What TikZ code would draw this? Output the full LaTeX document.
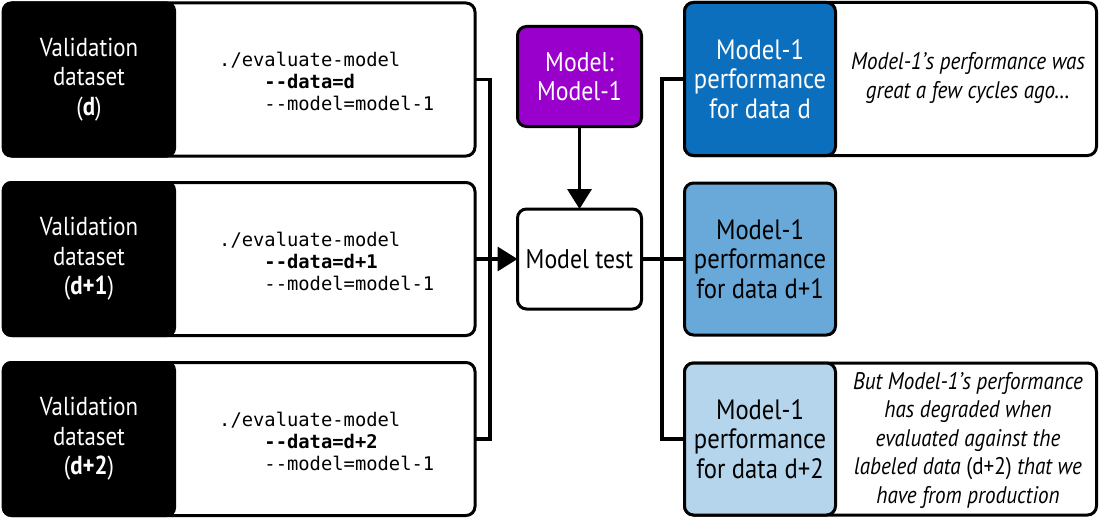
\documentclass[tikz,border=0pt]{standalone}
\usepackage{fontspec}
\setmainfont{PT Sans}[FakeStretch=0.88]
\newfontfamily\codefont{DejaVu Sans Mono}
\usetikzlibrary{arrows.meta}
\definecolor{dblue}{HTML}{0B6FBD}
\definecolor{mblue}{HTML}{68A9D9}
\definecolor{lblue}{HTML}{B4D5EC}
\definecolor{purp}{HTML}{9A00CC}
\begin{document}
\begin{tikzpicture}[x=1pt,y=-1pt,
  box/.style={draw=black, line width=3pt, rounded corners=9pt, inner sep=0pt, outer sep=0pt, fill=white},
  blk/.style={fill=black, rounded corners=9pt, inner sep=0pt, outer sep=0pt, text=white, align=center,
     font=\fontsize{26}{29.5}\selectfont},
  code/.style={anchor=west, align=left, inner sep=0pt, font=\codefont\fontsize{18.8}{22}\selectfont},
  perf/.style={box, align=center, font=\fontsize{28}{29.5}\selectfont},
  note/.style={align=center, inner sep=0pt, font=\itshape\fontsize{24}{28.5}\selectfont},
  conn/.style={line width=3.5pt},
  arr/.style={conn, -{Triangle[length=20pt,width=24pt]}}
]
\useasboundingbox (0,0) rectangle (1100,519);
% left boxes
\foreach \i/\y/\lab in {1/79.5/{d}, 2/259/{d+1}, 3/439/{d+2}}{
  \node[box, minimum width=472pt, minimum height=153pt] (lb\i) at (239,\y) {};
  \node[blk, minimum width=174pt, minimum height=156pt] (lk\i) at (89,\y) {Validation\\dataset\\(\textbf{\lab})};
  \node[code] (c\i) at (219,\y+2) {./evaluate-model\\\phantom{0000}\textbf{-{}-data=\lab}\\\phantom{0000}-{}-model=model-1};
}
% center
\node[box, fill=purp, text=white, minimum width=124pt, minimum height=100pt, align=center,
      font=\fontsize{27}{29}\selectfont] (m) at (579.5,76.5) {Model:\\Model-1};
\node[box, minimum width=124pt, minimum height=100pt, font=\fontsize{27}{29}\selectfont] (mt) at (579.5,259) {Model test};
% right
\node[box, minimum width=412pt, minimum height=153pt] (r1) at (890.5,79) {};
\node[box, minimum width=412pt, minimum height=152pt] (r3) at (890.5,439) {};
\node[perf, fill=dblue, text=white, minimum width=151pt, minimum height=153pt] (p1) at (760,79) {Model-1\\performance\\for data d};
\node[perf, fill=mblue, minimum width=151pt, minimum height=152pt] (p2) at (760,259) {Model-1\\performance\\for data d+1};
\node[perf, fill=lblue, minimum width=151pt, minimum height=152pt] (p3) at (760,439) {Model-1\\performance\\for data d+2};
\node[note] (n1) at (968,78) {Model-1's performance was\\great a few cycles ago\dots};
\node[note] (n3) at (968,440) {But Model-1's performance\\has degraded when\\evaluated against the\\labeled data \textup{(d+2)} that we\\have from production};
% connectors
\coordinate (jL1) at (490,79.5);
\coordinate (jL3) at (490,439);
\coordinate (jR1) at (662,79);
\coordinate (jR3) at (662,439);
\draw[conn] (lb1.east) -- (jL1) -- (jL3) -- (lb3.east);
\draw[arr] (lb2.east) -- (mt.west);
\draw[arr] (m.south) -- (mt.north);
\draw[conn] (p1.west) -- (jR1) -- (jR3) -- (p3.west);
\draw[conn] (mt.east) -- (p2.west);
\end{tikzpicture}
\end{document}
